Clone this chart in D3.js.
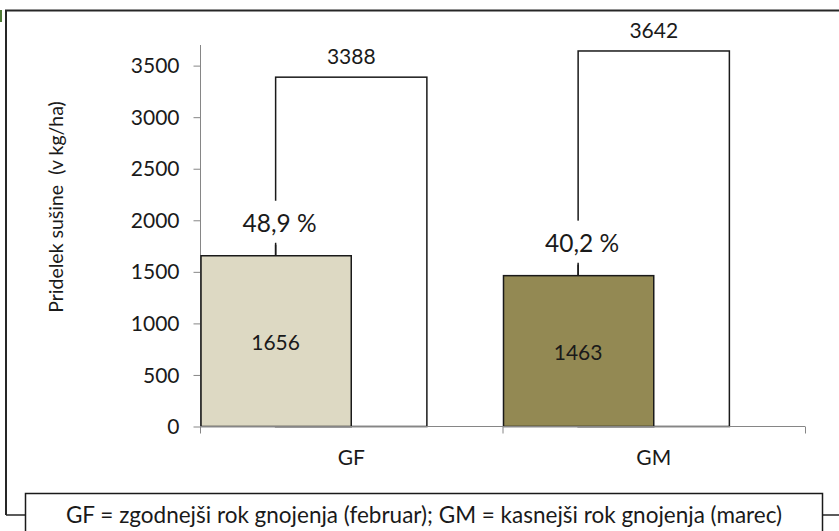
<!DOCTYPE html>
<html>
<head>
<meta charset="utf-8">
<script src="https://cdn.jsdelivr.net/npm/d3@7"></script>
<style>
  body { margin: 0; background: #fff; }
  text { font-family: Lato, "Open Sans", sans-serif; fill: #1a1a1a; }
</style>
</head>
<body>
<div id="chart"></div>
<script>
// values
const categories = ["GF", "GM"];
const earlyValues = [1656, 1463];     // filled bars
const totalValues = [3388, 3642];     // white bars
const shareLabels = ["48,9 %", "40,2 %"];
const barColors = ["#ddd9c3", "#938953"];
const yTicks = [0, 500, 1000, 1500, 2000, 2500, 3000, 3500];
const yTitle = "Pridelek sušine  (v kg/ha)";
const legendText = "GF = zgodnejši rok gnojenja (februar); GM = kasnejši rok gnojenja (marec)";

const width = 839, height = 531;
const fs = 21;   // main font size

const svg = d3.select("#chart")
  .append("svg")
  .attr("width", width)
  .attr("height", height);

// outer frame (right side and bottom are cut off)
svg.append("path")
  .attr("d", "M6,515 L6,10.5 L845,10.5")
  .attr("fill", "none")
  .attr("stroke", "#262626")
  .attr("stroke-width", 2);
svg.append("path")
  .attr("d", "M6,515 L25,515 M823,515 L845,515")
  .attr("fill", "none")
  .attr("stroke", "#262626")
  .attr("stroke-width", 1.5);
svg.append("rect")
  .attr("x", 0).attr("y", 10).attr("width", 2).attr("height", 12)
  .attr("fill", "#4e7a35");

const x = d3.scaleBand()
  .domain(categories)
  .range([200, 805])
  .padding(0);

const y = d3.scaleLinear()
  .domain([0, 3700])
  .range([426.5, 45]);

const bw = x.bandwidth() / 2;

// y axis
const yAxis = svg.append("g")
  .attr("transform", "translate(200.5,0)")
  .call(d3.axisLeft(y).tickValues(yTicks).tickSize(7).tickPadding(14).tickFormat(d3.format("d")));
yAxis.select(".domain").attr("stroke", "#868686").attr("d", `M0,${y(3700)}V${y(0)}`);
yAxis.selectAll(".tick line").attr("stroke", "#868686");
yAxis.selectAll(".tick text")
  .attr("font-size", fs)
  .attr("fill", "#1a1a1a")
  .attr("dy", "0.34em");

svg.append("text")
  .attr("transform", "translate(63,207) rotate(-90)")
  .attr("text-anchor", "middle")
  .attr("font-size", 19.5)
  .style("white-space", "pre")
  .text(yTitle);

const groups = svg.selectAll(".grp")
  .data(categories)
  .join("g")
  .attr("class", "grp");

// white total bars (behind)
groups.append("rect")
  .attr("x", (d) => x(d) + bw / 2)
  .attr("y", (d, i) => y(totalValues[i]))
  .attr("width", bw)
  .attr("height", (d, i) => y(0) - y(totalValues[i]))
  .attr("fill", "#fff")
  .attr("stroke", "#1a1a1a")
  .attr("stroke-width", 1.5);

// filled early bars
groups.append("rect")
  .attr("x", (d) => x(d) + 1)
  .attr("y", (d, i) => y(earlyValues[i]))
  .attr("width", bw - 1)
  .attr("height", (d, i) => y(0) - y(earlyValues[i]))
  .attr("fill", (d, i) => barColors[i])
  .attr("stroke", "#1a1a1a")
  .attr("stroke-width", 1.5);

// x axis
const xAxis = svg.append("g")
  .attr("transform", "translate(0,426.5)");
xAxis.append("line")
  .attr("x1", 200).attr("x2", 805)
  .attr("stroke", "#868686");
xAxis.selectAll(".xt")
  .data([...categories.map((d) => x(d)), x(categories[1]) + x.bandwidth()])
  .join("line")
  .attr("x1", (d) => d + 0.5).attr("x2", (d) => d + 0.5)
  .attr("y1", 0).attr("y2", 7)
  .attr("stroke", "#868686");
xAxis.selectAll(".xl")
  .data(categories)
  .join("text")
  .attr("x", (d) => x(d) + x.bandwidth() / 2)
  .attr("y", 38)
  .attr("text-anchor", "middle")
  .attr("font-size", fs)
  .text((d) => d);

// total labels above white bars
groups.append("text")
  .attr("x", (d) => x(d) + bw)
  .attr("y", (d, i) => y(totalValues[i]) - 13)
  .attr("text-anchor", "middle")
  .attr("font-size", fs)
  .text((d, i) => totalValues[i]);

// value labels inside filled bars
groups.append("text")
  .attr("x", (d) => x(d) + bw / 2)
  .attr("y", (d, i) => (y(earlyValues[i]) + y(0)) / 2 + 9)
  .attr("text-anchor", "middle")
  .attr("font-size", fs)
  .text((d, i) => earlyValues[i]);

// percent labels with white boxes over the white bar edge
groups.append("rect")
  .attr("x", (d) => x(d) + bw / 2 - 44)
  .attr("y", (d, i) => y(earlyValues[i]) - 55)
  .attr("width", 88)
  .attr("height", 44)
  .attr("fill", "#fff");
groups.append("line")
  .attr("x1", (d) => x(d) + bw / 2).attr("x2", (d) => x(d) + bw / 2)
  .attr("y1", (d, i) => y(earlyValues[i]) - 13)
  .attr("y2", (d, i) => y(earlyValues[i]))
  .attr("stroke", "#1a1a1a")
  .attr("stroke-width", 1.5);
groups.append("text")
  .attr("x", (d) => x(d) + bw / 2 + 4)
  .attr("y", (d, i) => y(earlyValues[i]) - 24)
  .attr("text-anchor", "middle")
  .attr("font-size", 24.5)
  .text((d, i) => shareLabels[i]);

// legend box
svg.append("rect")
  .attr("x", 25.5).attr("y", 493.5)
  .attr("width", 797).attr("height", 60)
  .attr("fill", "#fff")
  .attr("stroke", "#1a1a1a")
  .attr("stroke-width", 1.5);
svg.append("text")
  .attr("x", 424)
  .attr("y", 523)
  .attr("text-anchor", "middle")
  .attr("font-size", 22.5)
  .text(legendText);
</script>
</body>
</html>
